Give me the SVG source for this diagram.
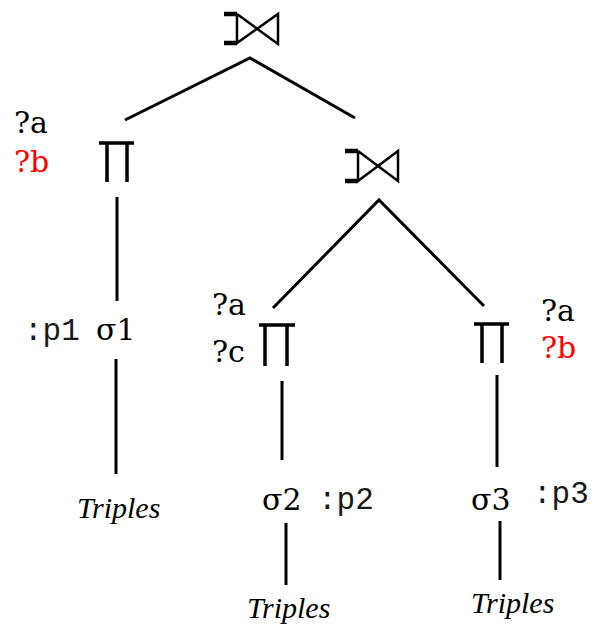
<svg xmlns="http://www.w3.org/2000/svg" width="592" height="635" viewBox="0 0 592 635">
<style>
.ln{stroke:#000;stroke-width:3;fill:none;stroke-linecap:butt}
.op{stroke:#000;stroke-width:3.5;fill:none}
.jn{stroke:#000;stroke-width:2.5;fill:none;stroke-linejoin:miter}
.jb{stroke:#000;stroke-width:4.5;fill:none}
text.lbl{font-family:"DejaVu Serif","Liberation Serif",serif;font-size:30px;fill:#000}
text.red{fill:#f00}
text.pr{font-family:"Liberation Mono","Courier New",monospace;font-size:31px;fill:#1a1a1a}
text.tr{font-family:"Liberation Serif","Times New Roman",serif;font-style:italic;font-size:30px;fill:#000}
</style>
<rect width="592" height="635" fill="#fff"/>
<g id="connectors">
<path class="ln" d="M125,120 L250,58 L355,118"/>
<path class="ln" d="M273,308 L379,200 L484,306"/>
<line class="ln" x1="117" y1="197" x2="117" y2="301"/>
<line class="ln" x1="116" y1="359" x2="116" y2="474"/>
<line class="ln" x1="282" y1="381" x2="282" y2="460"/>
<line class="ln" x1="497" y1="375" x2="497" y2="467"/>
<line class="ln" x1="286" y1="523" x2="286" y2="585"/>
<line class="ln" x1="500" y1="521" x2="500" y2="580"/>
</g>
<g id="join1">
<path class="jb" d="M224,14 H237 M224,43 H237"/>
<path class="jn" d="M237,14 V43 L278,14 V44 L237,14"/>
</g>
<g id="proj1">
<path class="op" d="M99,143 H134 M107,143 V182 M127,143 V182"/>
<text class="lbl" x="14" y="133">?a</text>
<text class="lbl red" x="14" y="172">?b</text>
</g>
<g id="join2">
<path class="jb" d="M345,151 H358 M345,181 H358"/>
<path class="jn" d="M358,151 V181 L398,151 V181 L358,151"/>
</g>
<g id="sel1">
<text class="pr" x="24" y="340">:p1</text>
<text class="lbl" x="96" y="340">σ1</text>
</g>
<g id="triples1"><text class="tr" x="77" y="518">Triples</text></g>
<g id="proj2">
<path class="op" d="M259,325 H295 M265,325 V366 M287,325 V366"/>
<text class="lbl" x="212" y="315">?a</text>
<text class="lbl" x="212" y="362">?c</text>
</g>
<g id="proj3">
<path class="op" d="M474,324 H509 M482,324 V363 M502,324 V363"/>
<text class="lbl" x="541" y="321">?a</text>
<text class="lbl red" x="541" y="358">?b</text>
</g>
<g id="sel2">
<text class="lbl" x="262" y="510">σ2</text>
<text class="pr" x="318" y="509">:p2</text>
</g>
<g id="sel3">
<text class="lbl" x="471" y="510">σ3</text>
<text class="pr" x="533" y="503">:p3</text>
</g>
<g id="triples2"><text class="tr" x="247" y="618">Triples</text></g>
<g id="triples3"><text class="tr" x="471" y="613">Triples</text></g>
</svg>
